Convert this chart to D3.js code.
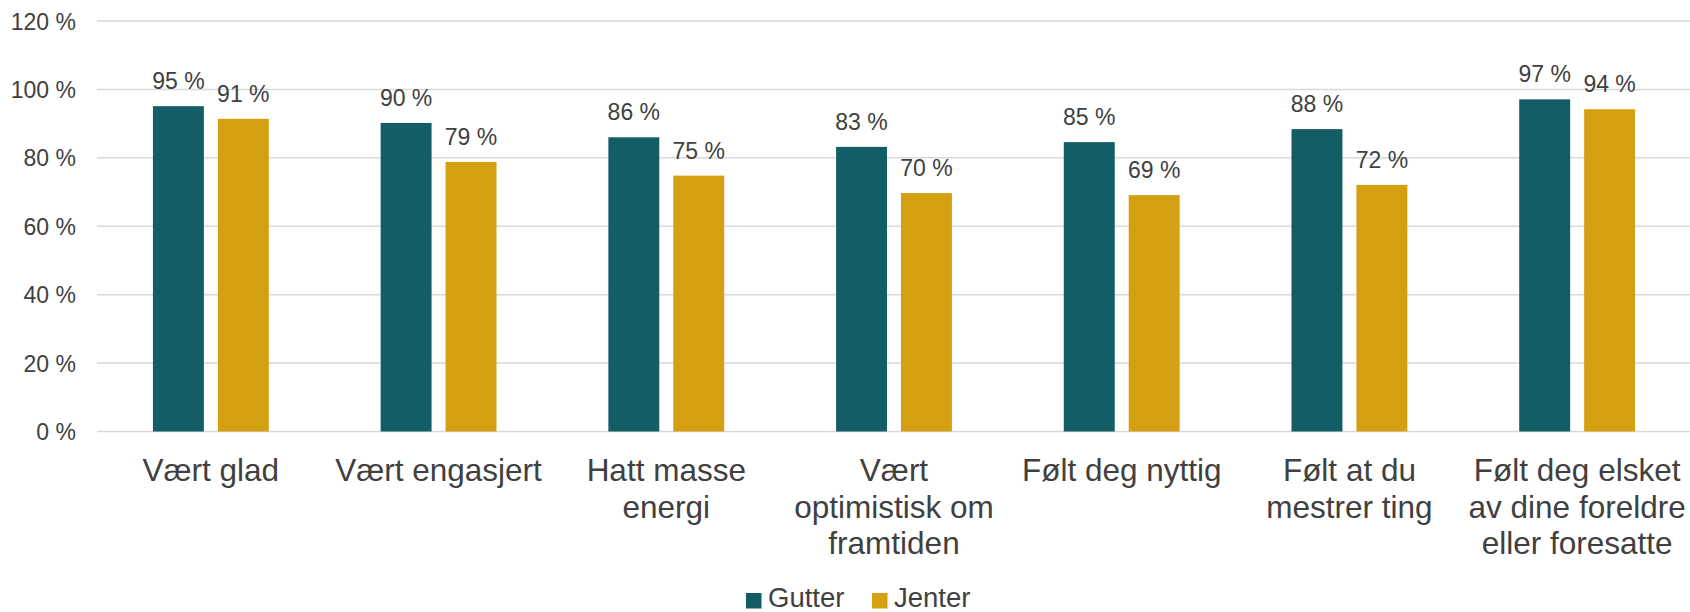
<!DOCTYPE html>
<html>
<head>
<meta charset="utf-8">
<script src="https://cdn.jsdelivr.net/npm/d3@7"></script>
<style>
  html, body { margin: 0; padding: 0; background: #fff; }
  svg { display: block; font-family: "Liberation Sans", Arial, sans-serif; }
</style>
</head>
<body>
<svg id="chart" width="1690" height="612"></svg>
<script>
const categories = [
  ["Vært glad"],
  ["Vært engasjert"],
  ["Hatt masse", "energi"],
  ["Vært", "optimistisk om", "framtiden"],
  ["Følt deg nyttig"],
  ["Følt at du", "mestrer ting"],
  ["Følt deg elsket", "av dine foreldre", "eller foresatte"]
];
const seriesNames = ["Gutter", "Jenter"];
const gutter = [95.1, 90.2, 86.0, 83.2, 84.6, 88.4, 97.1];
const jenter = [91.4, 78.8, 74.8, 69.7, 69.1, 72.1, 94.2];
const yTicks = [0, 20, 40, 60, 80, 100, 120];
const colors = ["#135e66", "#d4a011"];

(function () {
const svg = d3.select("#chart");
const textColor = "#404040";
const pLeft = 97, pRight = 1691, pTop = 21, pBottom = 431.5;

const catKeys = categories.map(c => c.join(" "));
const x0 = d3.scaleBand().domain(catKeys).range([pLeft, pRight]).paddingInner(0).paddingOuter(0);
const x1 = d3.scaleBand().domain(seriesNames).range([0, x0.bandwidth()])
  .paddingInner(14 / 65).paddingOuter(56 / 65);
const y = d3.scaleLinear().domain([0, 120]).range([pBottom, pTop]);

// gridlines
svg.append("g").selectAll("line").data(yTicks).join("line")
  .attr("x1", pLeft).attr("x2", 1690)
  .attr("y1", d => y(d)).attr("y2", d => y(d))
  .attr("stroke", "#d9d9d9").attr("stroke-width", 1.5);

// y axis labels
const yAxis = d3.axisLeft(y).tickValues(yTicks).tickFormat(d => d + " %").tickSize(0).tickPadding(0);
const yg = svg.append("g").attr("transform", "translate(76,0)").call(yAxis);
yg.select(".domain").remove();
yg.selectAll("text").attr("font-size", 23).attr("fill", textColor)
  .attr("font-family", "Liberation Sans, Arial, sans-serif").attr("dy", "0.35em");

const data = catKeys.map((k, i) => ({ key: k, values: [gutter[i], jenter[i]] }));

const groups = svg.append("g").selectAll("g").data(data).join("g")
  .attr("transform", d => `translate(${x0(d.key)},0)`);

groups.selectAll("rect").data(d => d.values.map((v, j) => ({ s: seriesNames[j], v, j })))
  .join("rect")
  .attr("x", d => x1(d.s)).attr("width", x1.bandwidth())
  .attr("y", d => y(d.v)).attr("height", d => y(0) - y(d.v))
  .attr("fill", d => colors[d.j]);

groups.selectAll("text.val").data(d => d.values.map((v, j) => ({ s: seriesNames[j], v, j })))
  .join("text").attr("class", "val")
  .attr("x", d => x1(d.s) + x1.bandwidth() / 2)
  .attr("y", d => y(d.v) - 17)
  .attr("text-anchor", "middle").attr("font-size", 23).attr("fill", textColor)
  .text(d => Math.round(d.v) + " %");

// x axis labels
const xl = svg.append("g").selectAll("text").data(categories).join("text")
  .attr("x", (d, i) => x0(catKeys[i]) + x0.bandwidth() / 2)
  .attr("y", 481)
  .attr("text-anchor", "middle").attr("font-size", 31.5).attr("fill", textColor);
xl.selectAll("tspan").data(d => d).join("tspan")
  .attr("x", function () { return d3.select(this.parentNode).attr("x"); })
  .attr("dy", (d, i) => i === 0 ? 0 : 36.5)
  .text(d => d);

// legend
const legendX = [746, 872];
const lg = svg.append("g").selectAll("g").data(seriesNames).join("g")
  .attr("transform", (d, i) => `translate(${legendX[i]},0)`);
lg.append("rect").attr("x", 0).attr("y", 593).attr("width", 15.5).attr("height", 15.5)
  .attr("fill", (d, i) => colors[i]);
lg.append("text").attr("x", 22).attr("y", 607).attr("font-size", 27.5).attr("fill", textColor)
  .text(d => d);
})();
</script>
</body>
</html>
